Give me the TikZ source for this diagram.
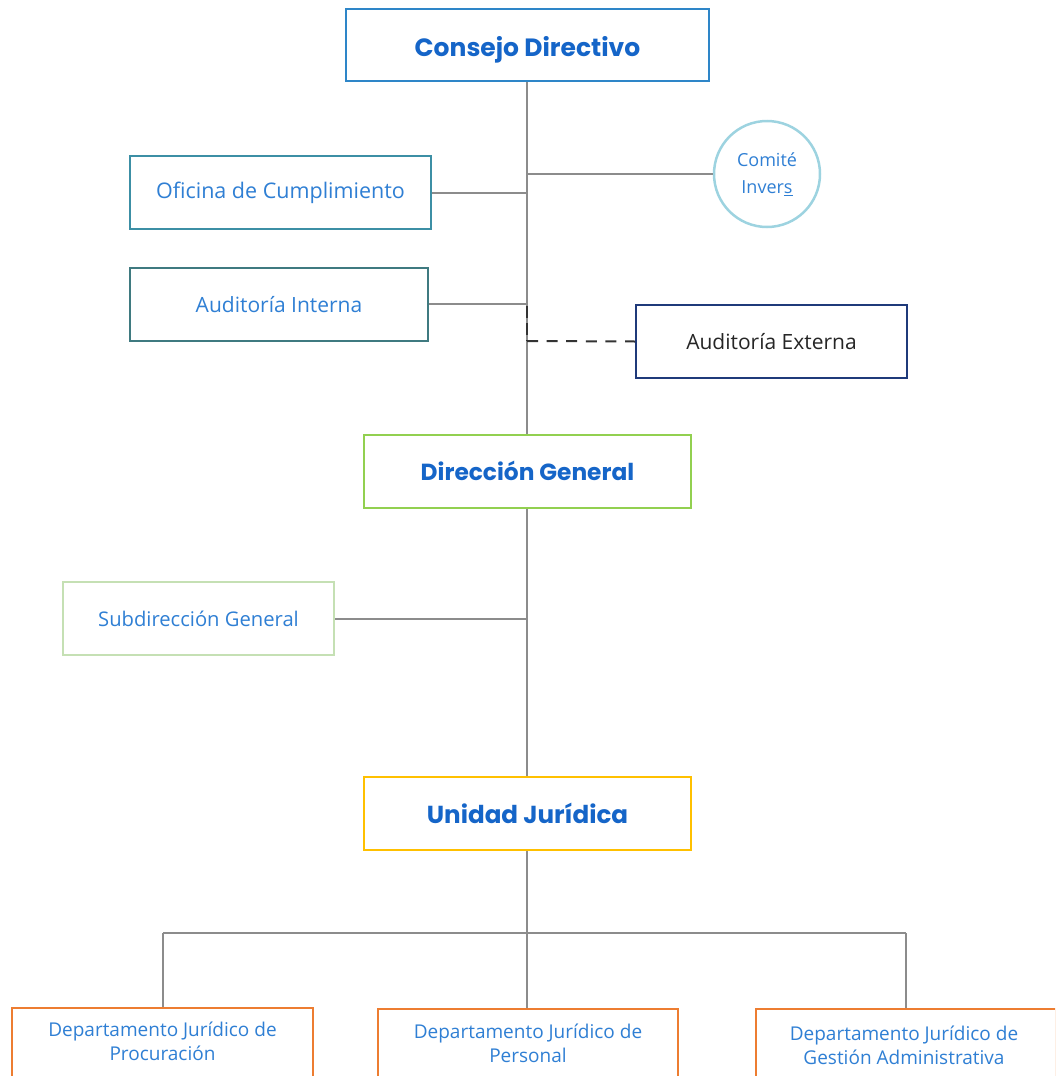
\documentclass[tikz,border=0pt]{standalone}
\usepackage{fontspec}
\setmainfont{Open Sans}
\newfontfamily\headfont{Poppins}
\usetikzlibrary{positioning}
\definecolor{txtblue}{HTML}{2F7FD4}
\definecolor{headblue}{HTML}{1565C8}
\definecolor{linegray}{HTML}{8C8C8C}
\definecolor{bCons}{HTML}{2E86C8}
\definecolor{bOfi}{HTML}{3C8FA5}
\definecolor{bAudI}{HTML}{3F7A80}
\definecolor{bAudE}{HTML}{1F3A7A}
\definecolor{bDir}{HTML}{92D050}
\definecolor{bSub}{HTML}{C5E0B4}
\definecolor{bUni}{HTML}{FFC000}
\definecolor{bDep}{HTML}{ED7D31}
\definecolor{bCom}{HTML}{9DD3E0}
\begin{document}
\begin{tikzpicture}[x=1pt,y=-1pt,
  box/.style={draw, line width=2pt, rectangle, inner sep=0pt, fill=white, align=center},
  conn/.style={draw=linegray, line width=2pt},
  dashconn/.style={draw=black!80, line width=2pt, dash pattern=on 11pt off 8.6pt},
  head/.style={text=headblue},
  reg/.style={font=\fontsize{21}{25}\selectfont, text=txtblue},
  dep/.style={font=\fontsize{19}{24}\selectfont, text=txtblue, align=center}]
\useasboundingbox (0,0) rectangle (1055,1076);
\clip (0,0) rectangle (1055,1076);
% nodes
\node[box, draw=bCons, minimum width=363pt, minimum height=72pt, head, text height=22pt, text depth=0pt, font=\headfont\bfseries\fontsize{25}{29}\selectfont] (cons) at (527.5,45) {Consejo Directivo};
\node[draw=bCom, line width=2.5pt, circle, minimum size=106pt, inner sep=0pt, fill=white, align=center, font=\fontsize{18}{27}\selectfont, text=txtblue] (com) at (767,174) {Comité\\Inver\underline{s}};
\node[box, draw=bOfi, minimum width=301pt, minimum height=73pt, reg, font=\fontsize{21.5}{25}\selectfont] (ofi) at (280.5,192.5) {Oficina de Cumplimiento};
\node[box, draw=bAudI, minimum width=298pt, minimum height=73pt, reg] (audi) at (279,304.5) {Auditoría Interna};
\node[box, draw=bAudE, minimum width=271pt, minimum height=73pt, font=\fontsize{21}{25}\selectfont, text=black!85] (aude) at (771.5,341.5) {Auditoría Externa};
\node[box, draw=bDir, minimum width=327pt, minimum height=73pt, head, font=\headfont\bfseries\fontsize{23.3}{27}\selectfont] (dir) at (527.5,471) {Dirección General};
\node[box, draw=bSub, minimum width=271pt, minimum height=73pt, reg, font=\fontsize{20.2}{24}\selectfont] (sub) at (198.5,618.5) {Subdirección General};
\node[box, draw=bUni, minimum width=327pt, minimum height=73pt, head, font=\headfont\bfseries\fontsize{24.6}{29}\selectfont] (uni) at (527.5,813.5) {Unidad Jurídica};
\node[box, draw=bDep, minimum width=301pt, minimum height=100pt, anchor=north] (d1) at (162.5,1007) {};
\node[box, draw=bDep, minimum width=300pt, minimum height=100pt, anchor=north] (d2) at (528,1008) {};
\node[box, draw=bDep, minimum width=300pt, minimum height=100pt, anchor=north] (d3) at (906,1008) {};
\node[dep, anchor=north] (t1) at (162.5,1018) {Departamento Jurídico de\\Procuración};
\node[dep, anchor=north] (t2) at (528,1020) {Departamento Jurídico de\\Personal};
\node[dep, anchor=north] (t3) at (904,1022) {Departamento Jurídico de\\Gestión Administrativa};
% coordinates
\coordinate (spineA) at (527,81);
\coordinate (jCom) at (527,174);
\coordinate (jOfi) at (527,193);
\coordinate (jAudI) at (527,304);
\coordinate (jDash) at (527,306);
\coordinate (jAudE) at (527,341);
\coordinate (jSub) at (527,619);
\coordinate (bus) at (527,933);
\coordinate (busL) at (163,933);
\coordinate (busR) at (906,933);
% connectors
\draw[conn] (cons.south -| spineA) -- (dir.north -| spineA);
\draw[conn] (jCom) -- (com.west);
\draw[conn] (ofi.east |- jOfi) -- (jOfi);
\draw[conn] (audi.east |- jAudI) -- (jAudI);
\draw[dashconn, dash pattern=on 12pt off 5pt] (jDash) -- (jAudE);
\draw[dashconn] (jAudE) -- (aude.west);
\draw[conn] (dir.south -| spineA) -- (uni.north -| spineA);
\draw[conn] (sub.east |- jSub) -- (jSub);
\draw[conn] (uni.south -| spineA) -- (bus);
\draw[conn] (busL) -- (busR);
\draw[conn] (busL) -- (d1.north -| busL);
\draw[conn] (bus) -- (d2.north -| bus);
\draw[conn] (busR) -- (d3.north -| busR);
\end{tikzpicture}
\end{document}
